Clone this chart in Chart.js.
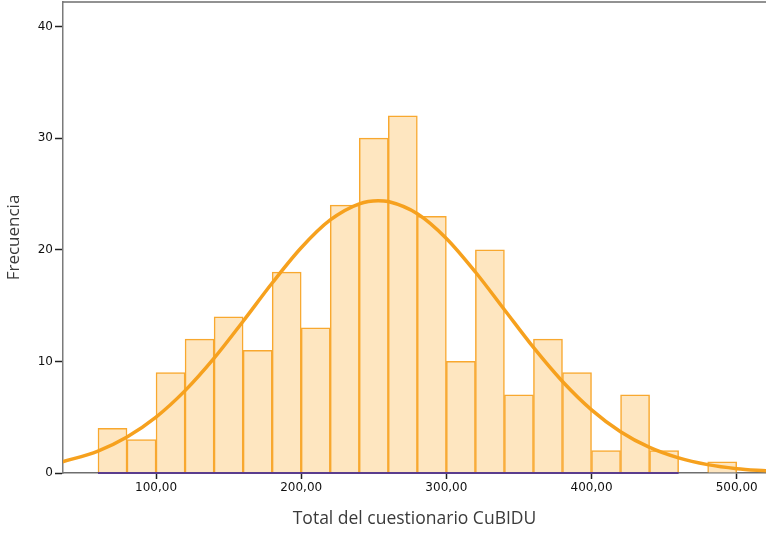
<!DOCTYPE html>
<html>
<head>
<meta charset="utf-8">
<script src="https://cdn.jsdelivr.net/npm/chart.js@4/dist/chart.umd.min.js"></script>
<style>
  html, body { margin: 0; padding: 0; background: #fff; }
  #wrap { width: 766px; height: 536px; }
</style>
</head>
<body>
<div id="wrap"><canvas id="histChart" width="766" height="536"></canvas></div>
<script>
// histogram bins (start of each 20-point bin) and frequencies
const binWidth = 20;
const binStarts = [60, 80, 100, 120, 140, 160, 180, 200, 220, 240, 260, 280, 300, 320, 340, 360, 380, 400, 420, 440, 460, 480];
const counts = [4, 3, 9, 12, 14, 11, 18, 13, 24, 30, 32, 23, 10, 20, 7, 12, 9, 2, 7, 2, 0, 1];

// normal curve
const curveX = [35, 60, 80, 100, 120, 140, 160, 180, 200, 220, 240, 253, 260, 280, 300, 320, 340, 360, 380, 400, 420, 440, 460, 480, 500, 521];
const curveY = [0.98, 1.97, 3.23, 5.01, 7.38, 10.29, 13.6, 17.02, 20.18, 22.67, 24.12, 24.4, 24.32, 23.23, 21.02, 18.01, 14.63, 11.25, 8.2, 5.66, 3.7, 2.29, 1.35, 0.75, 0.39, 0.19];

const xTicks = [100, 200, 300, 400, 500];
const yTicks = [0, 10, 20, 30, 40];

const barData = binStarts.map((s, i) => ({ x: s + binWidth / 2, y: counts[i] }));
const curveData = curveX.map((x, i) => ({ x: x, y: curveY[i] }));
const gapIdx = counts.indexOf(0);
const baseData = [{ x: binStarts[0], y: 0 }, { x: binStarts[gapIdx], y: 0 }];

const topFrame = {
    id: 'topFrame',
    afterDraw(chart) {
        const { ctx, chartArea } = chart;
        ctx.save();
        ctx.strokeStyle = '#6e6e6e';
        ctx.lineWidth = 1.5;
        ctx.beginPath();
        ctx.moveTo(chartArea.left, chartArea.top);
        ctx.lineTo(chartArea.right, chartArea.top);
        ctx.stroke();
        ctx.restore();
    }
};

document.addEventListener("DOMContentLoaded", () => {
    const ctx = document.getElementById("histChart").getContext("2d");
    new Chart(ctx, {
        type: 'bar',
        data: {
            datasets: [{
                type: 'line',
                data: baseData,
                borderColor: '#5a3d8e',
                borderWidth: 2,
                pointRadius: 0,
                clip: false,
                order: 0
            }, {
                type: 'line',
                data: curveData,
                borderColor: '#f6a11e',
                borderWidth: 3.5,
                pointRadius: 0,
                cubicInterpolationMode: 'monotone',
                order: 1
            }, {
                type: 'bar',
                data: barData,
                backgroundColor: '#fee6c0',
                borderColor: '#f8a82f',
                borderWidth: 1.5,
                barPercentage: 1,
                categoryPercentage: 1,
                order: 2
            }]
        },
        options: {
            responsive: false,
            animation: false,
            layout: { padding: { top: 2, right: 0, left: 0, bottom: 0 } },
            plugins: {
                legend: { display: false },
                tooltip: { enabled: false }
            },
            scales: {
                x: {
                    type: 'linear',
                    offset: false,
                    min: 35.9,
                    max: 520.2,
                    afterFit: (s) => { s.height = 63; s.paddingLeft = 0; s.paddingRight = 0; },
                    afterBuildTicks: (s) => { s.ticks = xTicks.map(v => ({ value: v })); },
                    border: { color: '#6e6e6e', width: 1.5 },
                    grid: { offset: false, drawOnChartArea: false, drawTicks: true, tickLength: 6, tickWidth: 1.5, tickColor: '#222' },
                    ticks: {
                        padding: 2,
                        color: '#111',
                        font: { family: 'DejaVu Sans', size: 12 },
                        maxRotation: 0,
                        callback: (v) => v.toFixed(2).replace('.', ',')
                    },
                    title: {
                        display: true,
                        text: 'Total del cuestionario CuBIDU',
                        color: '#3a3a3a',
                        font: { family: 'Open Sans', size: 17.5 },
                        padding: { top: 0, bottom: 6 }
                    }
                },
                y: {
                    min: 0,
                    max: 42.2,
                    afterFit: (s) => { s.width = 63; s.paddingTop = 0; s.paddingBottom = 0; },
                    afterBuildTicks: (s) => { s.ticks = yTicks.map(v => ({ value: v })); },
                    border: { color: '#7a7a7a', width: 1.5 },
                    grid: { drawOnChartArea: false, drawTicks: true, tickLength: 8, tickWidth: 1.5, tickColor: '#222' },
                    ticks: {
                        padding: 2,
                        color: '#111',
                        font: { family: 'DejaVu Sans', size: 12 }
                    },
                    title: {
                        display: true,
                        text: 'Frecuencia',
                        color: '#3a3a3a',
                        font: { family: 'Open Sans', size: 17 },
                        padding: { top: 4, bottom: 0 }
                    }
                }
            }
        },
        plugins: [topFrame]
    });
});
</script>
</body>
</html>
